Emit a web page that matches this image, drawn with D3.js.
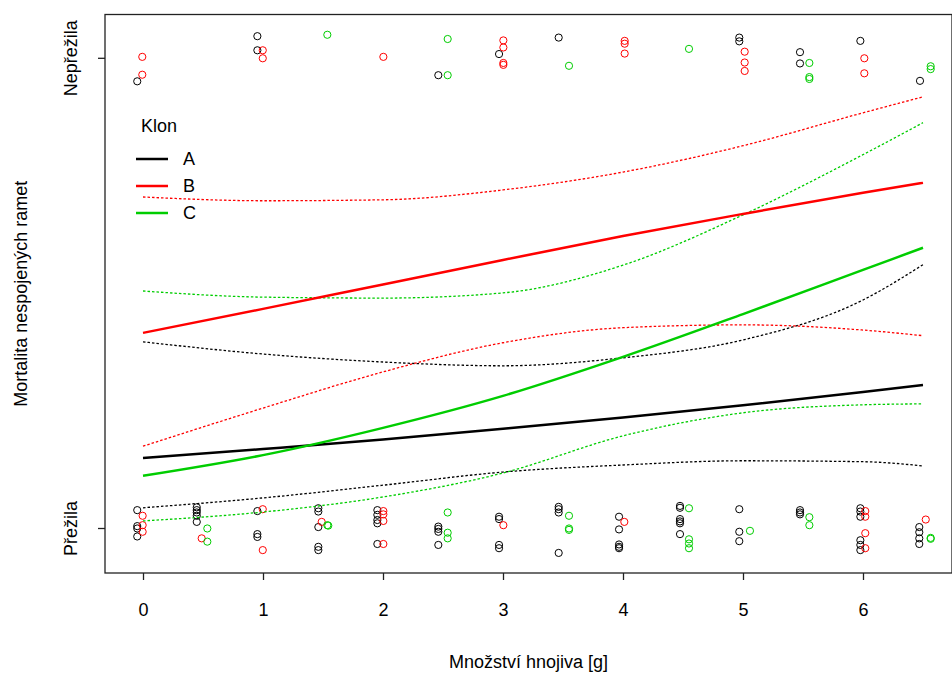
<!DOCTYPE html>
<html>
<head>
<meta charset="utf-8">
<script src="https://cdn.jsdelivr.net/npm/d3@7"></script>
<style>
  html, body { margin: 0; padding: 0; background: #fff; }
  svg text { font-family: "Liberation Sans", Arial, sans-serif; fill: #000; }
</style>
</head>
<body>
<svg id="chart" width="952" height="673"></svg>
<script>
// Fertiliser amount (g) at which the fitted curves and bands are drawn
const fitX = [0, 1, 2, 3, 4, 5, 6, 6.5];

// Fitted mortality probability per clone, with dotted confidence bands
const fitA = [0.149, 0.168, 0.188, 0.211, 0.235, 0.261, 0.289, 0.304];
const fitAlo = [0.043, 0.064, 0.091, 0.119, 0.134, 0.143, 0.141, 0.132];
const fitAhi = [0.396, 0.370, 0.353, 0.345, 0.362, 0.400, 0.485, 0.560];

const fitB = [0.415, 0.466, 0.518, 0.570, 0.621, 0.668, 0.713, 0.734];
const fitBlo = [0.174, 0.255, 0.332, 0.394, 0.426, 0.432, 0.421, 0.409];
const fitBhi = [0.704, 0.696, 0.698, 0.719, 0.757, 0.813, 0.883, 0.917];

const fitC = [0.111, 0.155, 0.213, 0.281, 0.364, 0.455, 0.549, 0.596];
const fitClo = [0.015, 0.034, 0.066, 0.117, 0.196, 0.245, 0.262, 0.264];
const fitChi = [0.504, 0.491, 0.489, 0.500, 0.559, 0.666, 0.794, 0.862];

// Observed ramets (jittered): fertiliser amount and survival outcome (0 = survived, 1 = died)
const obsAx = [-0.048, 0.953, 0.953, 2.461, 2.967, 3.464, 4.969, 4.969, 5.475, 5.475, 5.978, 6.475,
  -0.048, -0.048, -0.048, -0.048, 0.448, 0.448, 0.448, 0.448, 0.448,
  0.953, 0.953, 0.953, 1.461, 1.461, 1.461, 1.461, 1.461,
  1.953, 1.953, 1.953, 1.953, 1.953, 2.461, 2.461, 2.461, 2.461,
  2.967, 2.967, 2.967, 2.967, 3.464, 3.464, 3.464, 3.464,
  3.967, 3.967, 3.967, 3.967, 3.967, 4.475, 4.475, 4.475, 4.475, 4.475, 4.475,
  4.969, 4.969, 4.969, 5.475, 5.475, 5.475, 5.978, 5.978, 5.978, 5.978, 5.978, 5.978,
  6.469, 6.469, 6.469, 6.469];
const obsAy = [0.950, 1.046, 1.016, 0.963, 1.008, 1.043, 1.043, 1.035, 1.012, 0.988, 1.036, 0.951,
  0.038, 0.004, -0.001, -0.018, 0.044, 0.038, 0.033, 0.026, 0.013,
  0.036, -0.013, -0.019, 0.042, 0.035, 0.002, -0.040, -0.047,
  0.038, 0.028, 0.017, 0.010, -0.034, 0.003, -0.002, -0.008, -0.036,
  0.024, 0.019, -0.036, -0.043, 0.045, 0.040, 0.033, -0.053,
  0.024, -0.003, -0.035, -0.040, -0.043, 0.047, 0.043, 0.019, 0.014, 0.010, -0.013,
  0.040, -0.008, -0.028, 0.038, 0.033, 0.029, 0.042, 0.035, 0.024, -0.026, -0.036, -0.047,
  0.002, -0.009, -0.022, -0.034];

const obsBx = [-0.006, -0.006, 0.998, 0.998, 2.003, 3.003, 3.003, 3.003, 3.003, 4.014, 4.014, 4.014,
  5.014, 5.014, 5.014, 6.011, 6.011,
  -0.003, -0.003, -0.003, 0.489, 0.998, 0.998, 1.489, 2.003, 2.003, 2.003, 2.003,
  3.003, 4.011, 6.019, 6.019, 6.019, 6.019, 6.523];
const obsBy = [1.002, 0.964, 1.016, 0.999, 1.002, 1.037, 1.022, 0.989, 0.985, 1.036, 1.030, 1.009,
  1.013, 0.990, 0.972, 0.999, 0.967,
  0.026, 0.006, -0.008, -0.022, 0.040, -0.047, 0.013, 0.036, 0.029, 0.015, -0.034,
  0.006, 0.013, 0.036, 0.024, -0.011, -0.043, 0.018];

const obsCx = [1.536, 2.539, 2.539, 3.550, 4.550, 5.553, 5.553, 5.553, 6.564, 6.564,
  0.536, 0.536, 1.536, 1.544, 2.539, 2.539, 2.539, 3.550, 3.550, 3.550,
  4.550, 4.550, 4.550, 4.550, 5.058, 5.553, 5.553, 6.564, 6.564];
const obsCy = [1.049, 1.040, 0.963, 0.983, 1.019, 0.989, 0.959, 0.955, 0.982, 0.976,
  -0.001, -0.029, 0.006, 0.005, 0.033, -0.010, -0.022, 0.026, -0.001, -0.004,
  0.042, -0.024, -0.033, -0.043, -0.006, 0.023, 0.006, -0.021, -0.023];

const clones = ["A", "B", "C"];
const cloneColors = ["#000000", "#FF0000", "#00CD00"];
const xTicks = [0, 1, 2, 3, 4, 5, 6];
const yTickValues = [0, 1];
const yTickLabels = ["Přežila", "Nepřežila"];
const xTitle = "Množství hnojiva [g]";
const yTitle = "Mortalita nespojených ramet";
const legendTitle = "Klon";

const svg = d3.select("#chart");
svg.append("rect").attr("width", 952).attr("height", 673).attr("fill", "#fff");

// Plot region
const box = { left: 105, right: 952, top: 14.5, bottom: 573 };
const x = d3.scaleLinear().domain([-0.3167, 6.7417]).range([box.left, box.right]);
const y = d3.scaleLinear().domain([-0.0957, 1.0921]).range([box.bottom, box.top]);

const plot = svg.append("g");

// Observed points as open circles
const obsSets = [[obsAx, obsAy], [obsBx, obsBy], [obsCx, obsCy]];
obsSets.forEach(([xs, ys], i) => {
  plot.append("g").selectAll("circle")
    .data(d3.range(xs.length))
    .join("circle")
    .attr("cx", k => x(xs[k]))
    .attr("cy", k => y(ys[k]))
    .attr("r", 3.6)
    .attr("fill", "none")
    .attr("stroke", cloneColors[i])
    .attr("stroke-width", 1);
});

// Fitted curves and their confidence bands
const line = d3.line()
  .x(d => x(d[0]))
  .y(d => y(d[1]))
  .curve(d3.curveMonotoneX);

const fits = [
  [fitA, fitAlo, fitAhi],
  [fitB, fitBlo, fitBhi],
  [fitC, fitClo, fitChi]
];
fits.forEach(([fit, lo, hi], i) => {
  [lo, hi].forEach(band => {
    plot.append("path")
      .attr("d", line(fitX.map((v, k) => [v, band[k]])))
      .attr("fill", "none")
      .attr("stroke", cloneColors[i])
      .attr("stroke-width", 1.3)
      .attr("stroke-dasharray", "2.5,2");
  });
});
fits.forEach(([fit], i) => {
  plot.append("path")
    .attr("d", line(fitX.map((v, k) => [v, fit[k]])))
    .attr("fill", "none")
    .attr("stroke", cloneColors[i])
    .attr("stroke-width", 2.5);
});

// Frame
svg.append("rect")
  .attr("x", box.left).attr("y", box.top)
  .attr("width", box.right - box.left).attr("height", box.bottom - box.top)
  .attr("fill", "none").attr("stroke", "#222").attr("stroke-width", 1.3);

// X axis
const xAxis = d3.axisBottom(x).tickValues(xTicks).tickSize(7).tickPadding(23)
  .tickFormat(d3.format("d"));
const gx = svg.append("g").attr("transform", `translate(0,${box.bottom})`).call(xAxis);
gx.select(".domain").remove();
gx.selectAll("line").attr("stroke", "#222").attr("stroke-width", 1.3);
gx.selectAll("text").attr("font-size", 18).attr("fill", "#000")
  .style("font-family", '"Liberation Sans", Arial, sans-serif');

// Y axis with rotated category labels
const yAxis = d3.axisLeft(y).tickValues(yTickValues).tickSize(7)
  .tickFormat((d, i) => yTickLabels[i]);
const gy = svg.append("g").attr("transform", `translate(${box.left},0)`).call(yAxis);
gy.select(".domain").remove();
gy.selectAll("line").attr("stroke", "#222").attr("stroke-width", 1.3);
gy.selectAll("text")
  .attr("font-size", 18).attr("fill", "#000")
  .style("font-family", '"Liberation Sans", Arial, sans-serif')
  .attr("x", null).attr("dy", null)
  .attr("text-anchor", "middle")
  .attr("transform", "translate(-28,0) rotate(-90)");

// Axis titles
svg.append("text")
  .attr("x", (box.left + box.right) / 2).attr("y", 668)
  .attr("text-anchor", "middle").attr("font-size", 18)
  .text(xTitle);
svg.append("text")
  .attr("transform", `translate(27,${(box.top + box.bottom) / 2}) rotate(-90)`)
  .attr("text-anchor", "middle").attr("font-size", 18)
  .text(yTitle);

// Legend
const legend = svg.append("g");
legend.append("text").attr("x", 141).attr("y", 132).attr("font-size", 18).text(legendTitle);
clones.forEach((c, i) => {
  const ly = 159 + i * 27;
  legend.append("line")
    .attr("x1", 136).attr("x2", 168).attr("y1", ly).attr("y2", ly)
    .attr("stroke", cloneColors[i]).attr("stroke-width", 2.5);
  legend.append("text")
    .attr("x", 183).attr("y", ly).attr("dy", "0.35em")
    .attr("font-size", 18).text(c);
});
</script>
</body>
</html>
